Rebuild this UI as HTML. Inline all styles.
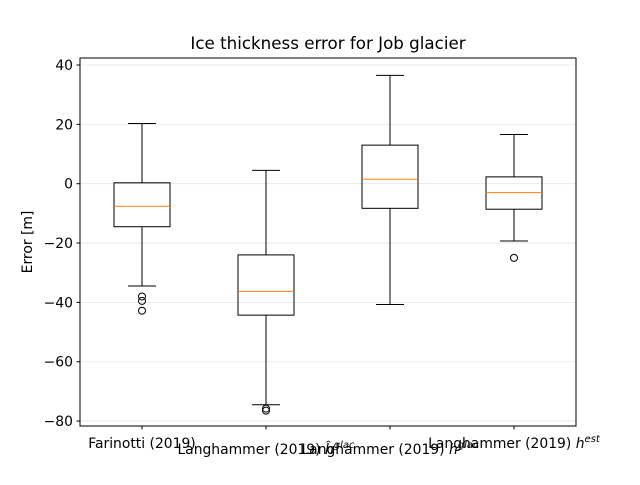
<!DOCTYPE html>
<html><head><meta charset="utf-8"><style>
body{margin:0;background:#fff;}
svg{font-family:"DejaVu Sans","Liberation Sans",sans-serif;}
</style></head><body>
<svg id="chart" width="640" height="480">
<rect width="640" height="480" fill="#fff"/>
<text x="328" y="49" font-size="16.7" text-anchor="middle">Ice thickness error for Job glacier</text>
<g id="grid"></g><g id="boxes"></g><g id="yaxis"></g><g id="xaxis"></g>
<rect x="80" y="58" width="496" height="368" fill="none" stroke="#000" stroke-width="1"/>
<text transform="translate(32,242) rotate(-90)" font-size="13.9" text-anchor="middle">Error [m]</text>
</svg>
<script>
const categories=["Farinotti (2019) ","Langhammer (2019) ","Langhammer (2019) ","Langhammer (2019) "];
const symbols=["","ĥ","h","h"];
const superscripts=["","glac","glac","est"];
const whiskerHigh=[20.3,4.5,36.5,16.6];
const q3=[0.3,-24,13,2.3];
const medians=[-7.6,-36.3,1.5,-3];
const q1=[-14.5,-44.3,-8.3,-8.6];
const whiskerLow=[-34.5,-74.5,-40.7,-19.3];
const fliers=[[-38,-39.5,-42.8],[-75.8,-76.5],[],[-25]];
const yTicks=[40,20,0,-20,-40,-60,-80];
const NS="http://www.w3.org/2000/svg";
const y=v=>183.7-v*2.967;
const x=i=>142+i*124;
function mk(tag,attrs,parent){const e=document.createElementNS(NS,tag);for(const k in attrs)e.setAttribute(k,attrs[k]);parent.appendChild(e);return e;}
const grid=document.getElementById('grid'),boxes=document.getElementById('boxes'),ya=document.getElementById('yaxis'),xa=document.getElementById('xaxis');
yTicks.forEach(t=>{
 const g=mk('line',{x1:80,x2:576,y1:y(t),y2:y(t),stroke:'#e6e6e6','stroke-width':0.8},grid);
 
 
 mk('line',{x1:76.5,x2:80,y1:y(t),y2:y(t),stroke:'#000'},ya);
 const l=mk('text',{x:73,y:y(t)+5,'font-size':13.9,'text-anchor':'end'},ya);
 l.textContent=t<0?'\u2212'+(-t):t;
 
 
});
categories.forEach((c,i)=>{
 const cx=x(i),hw=28;
 const g=mk('g',{},boxes);
 
 
 mk('rect',{x:cx-hw,y:y(q3[i]),width:2*hw,height:y(q1[i])-y(q3[i]),fill:'none',stroke:'#000'},g);
 mk('line',{x1:cx,x2:cx,y1:y(q3[i]),y2:y(whiskerHigh[i]),stroke:'#000'},g);
 mk('line',{x1:cx,x2:cx,y1:y(q1[i]),y2:y(whiskerLow[i]),stroke:'#000'},g);
 mk('line',{x1:cx-14,x2:cx+14,y1:y(whiskerHigh[i]),y2:y(whiskerHigh[i]),stroke:'#000'},g);
 mk('line',{x1:cx-14,x2:cx+14,y1:y(whiskerLow[i]),y2:y(whiskerLow[i]),stroke:'#000'},g);
 mk('line',{x1:cx-hw,x2:cx+hw,y1:y(medians[i]),y2:y(medians[i]),stroke:'#ff7f0e'},g);
 fliers[i].forEach(f=>{const p=mk('circle',{cx:cx,cy:y(f),r:3.5,fill:'none',stroke:'#000'},g);
  
  });
 mk('line',{x1:cx,x2:cx,y1:426,y2:429.5,stroke:'#000'},xa);
 const ty=(i==1||i==2)?454:448;
 const t=mk('text',{x:cx,y:ty,'font-size':13.9,'text-anchor':'middle'},xa);
 t.textContent=c;
 if(symbols[i]){const s=mk('tspan',{'font-style':'italic'},t);s.textContent=symbols[i];}
 if(superscripts[i]){const s=mk('tspan',{dy:-6,'font-size':10,'font-style':'italic'},t);s.textContent=superscripts[i];}
 
 
});
</script>
</body></html>
